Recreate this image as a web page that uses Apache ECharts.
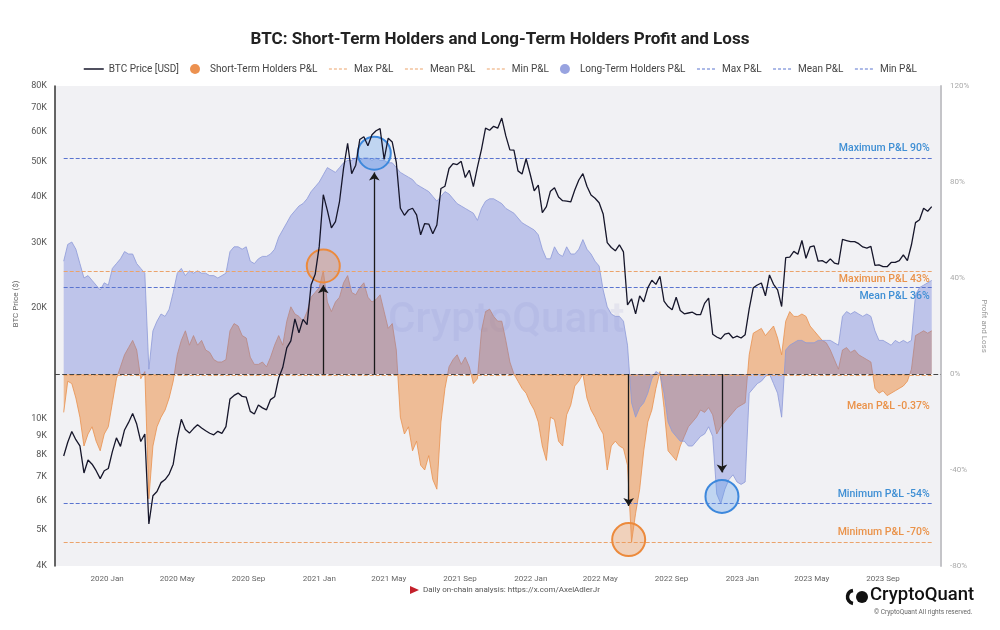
<!DOCTYPE html>
<html><head><meta charset="utf-8">
<script src="https://cdn.jsdelivr.net/npm/echarts@6/dist/echarts.min.js"></script>
<style>html,body{margin:0;padding:0;background:#fff}#c{width:1000px;height:630px}</style>
</head><body><div id="c"></div>
<script>
// ---------- data ----------
const START_DATE = '2019-10-18';   // first weekly sample
const STEP_DAYS = 7;
const X_MIN = '2019-10-03';
const X_MAX = '2023-12-10';
const X_TICKS = ['2020-01-01','2020-05-01','2020-09-01','2021-01-01','2021-05-01','2021-09-01',
                 '2022-01-01','2022-05-01','2022-09-01','2023-01-01','2023-05-01','2023-09-01'];
const MONTHS = ['Jan','Feb','Mar','Apr','May','Jun','Jul','Aug','Sep','Oct','Nov','Dec'];
const PRICE_TICKS = [4000,5000,6000,7000,8000,9000,10000,20000,30000,40000,50000,60000,70000,80000];
const PNL_MIN = -80, PNL_MAX = 120, PNL_STEP = 40;

// weekly BTC price (USD)
const btcPrice = [
  // 2019 Oct 18 - Dec 27
  7950,8660,9260,8800,8470,7150,7750,7550,7250,6900,7250,
  // 2020
  7350,8170,8900,8440,9350, 9800,10360,9700,8700, 9120,5200,6200,6370, 6730,6860,7100,7550,
  8860,9990,9380,9170,9430, 9660,9470,9300,9160, 9070,9270,9150,9550,11350, 11600,11770,11530,11470,
  10500,10330,10930,10730, 10600,11300,11500,12930,13800, 15600,16300,18700,17150, 18650,18050,23150,24700,
  // 2021
  29400,40600,36800,33000,34300, 38900,47900,55900,46300, 48800,57300,58300,55100,
  59000,60500,61300,50600,57750, 56400,49700,37300,35700, 36900,37300,35800,31600,
  33900,33800,31800,33600,42200, 42800,47800,49300,49000, 50000,45200,47300,42700,
  48200,53900,61500,60700,62200, 61500,65500,58600,53700, 53600,47100,46200,50800,46200,
  // 2022
  41600,43100,36300,37700, 41500,42400,40000,39100, 39000,38800,41800,44500,
  46300,42800,40500,39700,38600, 36000,30100,29200,28600, 29700,28400,20400,21200,
  19300,21600,20800,22700,23800, 23200,24400,20900,20200, 19800,21400,19700,19300,19400,
  19500,19200,19200,20600, 21300,17000,16700,16500, 17000,17100,16600,16800,16600,
  // 2023
  16950,19900,22700,23100, 23400,21600,24600,23200, 22400,20200,27400,27500,28500,
  28000,30500,27300,29300, 29500,26800,26900,26500, 27200,26500,26300,30700,30500,
  30300,30300,29900,29300, 29100,29400,26100,26200, 25900,25900,26600,26600,26900,
  27900,26900,29700,34100, 34700,37300,36600,37700
];

// Short-Term Holders P&L (%)
const sthPnl = [
  -16,-3,-4,-10,-18,-30,-25,-22,-28,-32,-25,-22,-12,-2,3,8,11,14,10,-2,1,-52,-30,-22,-18,-15,-10,-3,8,14,
  18,12,16,12,14,10,9,6,5,5,6,18,21,20,16,15,7,4,4,5,3,7,12,16,
  12,22,28,25,24,22,26,32,34,36,43,30,26,30,32,38,41,34,33,36,38,32,30,31,33,26,19,21,10,-18,
  -25,-22,-32,-28,-38,-40,-34,-44,-48,-20,-6,3,6,8,4,7,3,-4,-2,18,26,27,24,22,
  22,14,5,0,-3,-6,-8,-12,-15,-20,-30,-36,-18,-19,-28,-30,-17,-13,-5,-3,0,-10,-15,-18,-22,
  -25,-40,-30,-28,-30,-31,-38,-70,-58,-48,-32,-20,-15,-6,1,-14,-32,-34,-36,-30,-26,-22,-20,-18,-15,
  -16,-14,-17,-25,
  -22,-20,-18,-16,-14,-13,-12,8,17,18,19,16,18,20,15,8,22,26,24,24,25,24,20,18,16,14,13,10,6,2,
  10,11,9,10,8,7,6,5,-6,-8,-7,-9,-8,-7,-6,-5,-3,2,16,17,18,17,18
];

// Long-Term Holders P&L (%)
const lthPnl = [
  47,54,55,52,46,40,41,39,37,35,38,37,44,46,48,51,50,50,46,44,42,2,18,22,25,24,27,34,42,44,
  41,43,42,43,42,42,41,41,40,41,42,51,53,53,52,53,47,46,48,49,49,50,52,57,
  60,63,66,68,70,71,73,76,78,80,83,86,85,84,86,88,89,89,90,89,90,90,89,90,89,89,88,88,86,84,
  83,82,81,79,78,77,76,74,72,74,76,75,73,71,70,69,68,67,64,69,72,73,73,72,
  71,69,68,67,65,63,62,61,60,58,52,48,48,53,50,49,53,50,50,52,56,52,50,47,45,
  35,28,25,24,24,22,12,-12,-18,-14,-12,-8,-2,1,0,-8,-20,-24,-26,-28,-28,-30,-30,-28,-26,
  -25,-22,-26,-50,
  -54,-48,-44,-42,-45,-46,-45,-8,-6,-4,-3,-1,0,-4,-8,-18,10,12,13,14,14,13,13,13,14,14,14,14,13,12,
  24,26,25,26,25,24,25,24,18,14,14,13,12,14,13,14,13,14,33,36,37,38,39
];

// reference levels [max, mean, min] (%)
const sthLevels = [43, -0.37, -70];
const lthLevels = [90, 36, -54];
const levelNames = ['Max', 'Mean', 'Min'];
const sthLevelText = ['Maximum P&L 43%', 'Mean P&L -0.37%', 'Minimum P&L -70%'];
const lthLevelText = ['Maximum P&L 90%', 'Mean P&L 36%', 'Minimum P&L -54%'];

// highlighted extremes: [date, circle value %, arrow end value %]
const sthHighlights = [['2021-01-08', 45, 37], ['2022-06-19', -69, -55]];
const lthHighlights = [['2021-04-06', 92, 84], ['2022-11-27', -51, -41]];

// ---------- build ----------
const DAY = 86400000;
const ts = s => Date.parse(s + 'T00:00:00Z');
const t0 = ts(START_DATE);
const dates = btcPrice.map((_, i) => t0 + i * STEP_DAYS * DAY);
const tEnd = dates[dates.length - 1];
const pricePts = btcPrice.map((p, i) => [dates[i], Math.log10(p)]);
const sthPts = sthPnl.map((v, i) => [dates[i], v]);
const lthPts = lthPnl.map((v, i) => [dates[i], v]);

const ORANGE = '#ec9150', BLUE_LINE = '#5a74cf', BLUE_TXT = '#3f8fd4', ORANGE_TXT = '#ea9249';
const STH_LINE = '#eba36b';
const FONT = 'Roboto, "Liberation Sans", Arial, sans-serif';

function levelSeries(prefix, levels, texts, lineColor, txtColor, placements) {
  return levels.map((v, k) => ({
    name: prefix + ' ' + levelNames[k],
    type: 'line', yAxisIndex: 1, data: [], symbol: 'none',
    lineStyle: { type: 'dashed', color: lineColor, width: 1 },
    itemStyle: { color: lineColor },
    z: 4,
    markLine: {
      silent: true, symbol: ['none', 'none'], animation: false,
      lineStyle: { type: 'dashed', color: lineColor, width: 1 },
      label: {
        show: true, formatter: texts[k], position: placements[k][0],
        distance: placements[k][1], color: txtColor, fontSize: 10.5,
        fontFamily: FONT, fontWeight: 500
      },
      data: [[{ coord: [dates[0], v] }, { coord: [tEnd, v] }]]
    }
  }));
}

function circles(list, stroke, fill) {
  return list.map(h => ({
    coord: [ts(h[0]), h[1]], symbol: 'circle', symbolSize: 33,
    itemStyle: { color: fill, borderColor: stroke, borderWidth: 2 }
  }));
}
function arrows(list) {
  return list.map(h => [
    { coord: [ts(h[0]), 0], symbol: 'none' },
    { coord: [ts(h[0]), h[2]], symbol: 'arrow', symbolSize: 8 }
  ]);
}
const dashItem = (name, color) => ({
  name, itemStyle: { opacity: 0 }, lineStyle: { type: [3, 2], color, width: 1 }
});

const chart = echarts.init(document.getElementById('c'), null, { renderer: 'canvas' });
chart.setOption({
  animation: false,
  backgroundColor: '#ffffff',
  textStyle: { fontFamily: FONT },
  title: {
    text: 'BTC: Short-Term Holders and Long-Term Holders Profit and Loss',
    left: 'center', top: 26,
    textStyle: { fontSize: 17, fontWeight: 'bold', color: '#222', fontFamily: FONT }
  },
  legend: {
    top: 59, left: 'center', itemGap: 11, itemWidth: 20, itemHeight: 10,
    textStyle: { fontSize: 10, color: '#444', fontFamily: FONT },
    formatter: n => (n.startsWith('STH ') || n.startsWith('LTH ')) ? n.slice(4) + ' P&L' : n,
    data: [
      { name: 'BTC Price [USD]', itemStyle: { opacity: 0 }, lineStyle: { width: 1.5 } },
      { name: 'Short-Term Holders P&L', icon: 'circle' },
      dashItem('STH Max', STH_LINE), dashItem('STH Mean', STH_LINE), dashItem('STH Min', STH_LINE),
      { name: 'Long-Term Holders P&L', icon: 'circle' },
      dashItem('LTH Max', BLUE_LINE), dashItem('LTH Mean', BLUE_LINE), dashItem('LTH Min', BLUE_LINE)
    ]
  },
  grid: { left: 55, right: 59, top: 86, bottom: 64, show: true, backgroundColor: '#f1f1f4', borderWidth: 0,
          outerBoundsMode: 'none' },
  xAxis: {
    type: 'value', min: ts(X_MIN), max: ts(X_MAX), scale: true,
    axisLine: { show: false }, axisTick: { show: false }, splitLine: { show: false },
    axisLabel: {
      customValues: X_TICKS.map(ts), color: '#666', fontSize: 8, margin: 9,
      formatter: v => { const d = new Date(v); return d.getUTCFullYear() + ' ' + MONTHS[d.getUTCMonth()]; }
    }
  },
  yAxis: [
    {
      type: 'value', position: 'left',
      min: Math.log10(PRICE_TICKS[0]), max: Math.log10(PRICE_TICKS[PRICE_TICKS.length - 1]),
      axisLine: { show: true, lineStyle: { color: '#333', width: 1.5 } },
      axisTick: { show: false }, splitLine: { show: false },
      axisLabel: {
        customValues: PRICE_TICKS.map(Math.log10), color: '#555', fontSize: 9, margin: 8,
        formatter: v => Math.round(Math.pow(10, v) / 1000) + 'K'
      },
      name: 'BTC Price ($)', nameLocation: 'middle', nameGap: 31,
      nameTextStyle: { color: '#666', fontSize: 8, padding: [0, 0, 0, 44] }
    },
    {
      type: 'value', position: 'right', min: PNL_MIN, max: PNL_MAX, interval: PNL_STEP,
      axisLine: { show: true, lineStyle: { color: '#c4c4c8', width: 2 } },
      axisTick: { show: false }, splitLine: { show: false },
      axisLabel: { formatter: '{value}%', color: '#aaa', fontSize: 8, margin: 9 },
      name: 'Profit and Loss', nameLocation: 'middle', nameGap: 33, nameRotate: -90,
      nameTextStyle: { color: '#999', fontSize: 8 }
    }
  ],
  series: [
    {
      name: 'Short-Term Holders P&L', type: 'line', yAxisIndex: 1, data: sthPts,
      symbol: 'none', z: 2,
      lineStyle: { color: '#e8904e', width: 0.8 }, itemStyle: { color: ORANGE },
      areaStyle: { color: 'rgba(236,140,64,0.75)', origin: 0 }
    },
    {
      name: 'Long-Term Holders P&L', type: 'line', yAxisIndex: 1, data: lthPts,
      symbol: 'none', z: 3,
      lineStyle: { color: '#8d99d8', width: 0.8 }, itemStyle: { color: '#98a3e0' },
      areaStyle: { color: 'rgba(104,122,218,0.53)', origin: 0 }
    },
    ...levelSeries('STH', sthLevels, sthLevelText, STH_LINE, ORANGE_TXT,
                   [['insideEndBottom', [2, 3]], ['insideEndBottom', [2, 26]], ['insideEndTop', [2, 4]]]),
    ...levelSeries('LTH', lthLevels, lthLevelText, BLUE_LINE, BLUE_TXT,
                   [['insideEndTop', [2, 4]], ['insideEndBottom', [2, 3]], ['insideEndTop', [2, 4]]]),
    {
      name: 'BTC Price [USD]', type: 'line', yAxisIndex: 0, data: pricePts,
      symbol: 'none', z: 6,
      lineStyle: { color: '#16162a', width: 1.3 }, itemStyle: { color: '#16162a' }
    },
    {
      name: 'annotations', type: 'line', yAxisIndex: 1, data: [], symbol: 'none', z: 8,
      markLine: {
        silent: true, animation: false, symbol: ['none', 'none'],
        label: { show: false },
        lineStyle: { color: '#1a1a1a', width: 1.3, type: 'solid' },
        data: [
          { yAxis: 0, lineStyle: { color: '#444', width: 1.2, type: 'dashed' } },
          ...arrows(sthHighlights), ...arrows(lthHighlights)
        ]
      },
      markPoint: {
        silent: true, animation: false, label: { show: false },
        data: [...circles(sthHighlights, '#ec8a3c', 'rgba(238,150,80,0.35)'),
               ...circles(lthHighlights, '#3d88dc', 'rgba(100,160,235,0.35)')]
      }
    }
  ],
  graphic: [
    { type: 'text', left: 388, top: 300, silent: true, z: 1,
      style: { text: 'CryptoQuant', fontSize: 42, fontWeight: 500, fontFamily: FONT, fill: 'rgba(150,150,200,0.13)' } },
    { type: 'polygon', silent: true, shape: { points: [[410, 586], [419, 590], [410, 594]] }, style: { fill: '#c4202b' } },
    { type: 'text', left: 423, top: 586, silent: true,
      style: { text: 'Daily on-chain analysis: https://x.com/AxelAdlerJr', fontSize: 8, fill: '#555', fontFamily: FONT } },
    { type: 'arc', silent: true, shape: { cx: 854, cy: 597, r: 6.5, startAngle: Math.PI * 0.55, endAngle: Math.PI * 1.45 },
      style: { stroke: '#111', lineWidth: 3.5, fill: null } },
    { type: 'circle', silent: true, shape: { cx: 862, cy: 597, r: 6 }, style: { fill: '#111' } },
    { type: 'text', left: 870, top: 586, silent: true,
      style: { text: 'CryptoQuant', fontSize: 18.5, fontWeight: 500, fill: '#111', fontFamily: FONT } },
    { type: 'text', left: 874, top: 609, silent: true,
      style: { text: '© CryptoQuant All rights reserved.', fontSize: 6.5, fill: '#666', fontFamily: FONT } }
  ]
});
</script>
</body></html>
